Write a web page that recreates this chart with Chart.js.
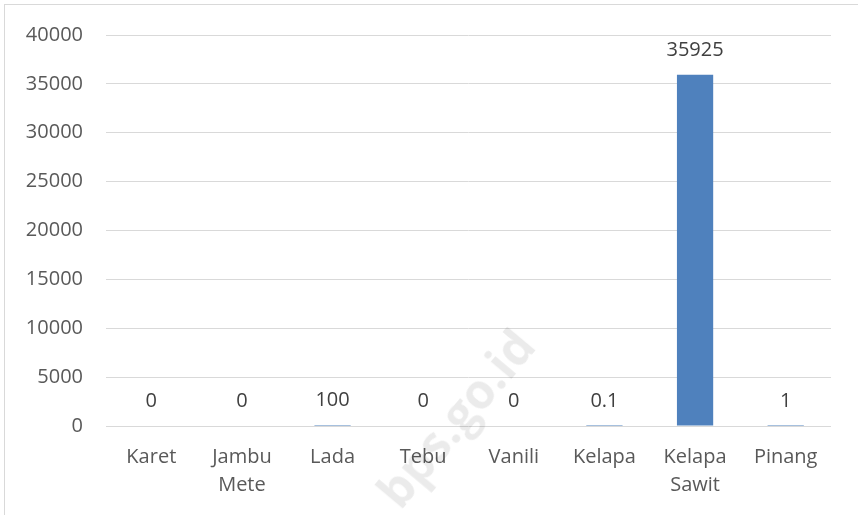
<!DOCTYPE html>
<html lang="id">
<head>
    <meta charset="UTF-8">
    <title>Produksi Perkebunan</title>
    <script src="https://cdn.jsdelivr.net/npm/chart.js"></script>
    <style>
        body {
            margin: 0;
            padding: 0;
            background: #ffffff;
            overflow: hidden;
        }
        .frame {
            position: absolute;
            left: 4px;
            top: 4px;
            width: 870px;
            height: 530px;
            border: 1px solid #d9d9d9;
            box-sizing: border-box;
        }
        .chart-box {
            position: absolute;
            left: 0;
            top: 0;
            width: 858px;
            height: 515px;
        }
        .watermark {
            position: absolute;
            left: 300px;
            top: 385px;
            width: 310px;
            text-align: center;
            font-family: 'Open Sans', Arial, sans-serif;
            font-weight: 700;
            font-size: 48px;
            color: rgba(0, 0, 0, 0.08);
            transform: rotate(-50deg);
            pointer-events: none;
        }
    </style>
</head>
<body>
    <div class="frame"></div>
    <div class="chart-box">
        <canvas id="cropChart" width="858" height="515"></canvas>
    </div>
    <div class="watermark">bps.go.id</div>

    <script>
        // data
        const categories = [['Karet'], ['Jambu', 'Mete'], ['Lada'], ['Tebu'], ['Vanili'], ['Kelapa'], ['Kelapa', 'Sawit'], ['Pinang']];
        const production = [0, 0, 100, 0, 0, 0.1, 35925, 1];
        const yTicks = [0, 5000, 10000, 15000, 20000, 25000, 30000, 35000, 40000];

        // value labels above each bar
        const valueLabels = {
            id: 'valueLabels',
            afterDatasetsDraw(chart) {
                const ctx = chart.ctx;
                const meta = chart.getDatasetMeta(0);
                ctx.save();
                ctx.font = '20px "Open Sans", Arial, sans-serif';
                ctx.fillStyle = '#404040';
                ctx.textAlign = 'center';
                ctx.textBaseline = 'middle';
                meta.data.forEach((bar, i) => {
                    ctx.fillText(String(production[i]), bar.x, bar.y - 25);
                });
                ctx.restore();
            }
        };

        const ctx = document.getElementById('cropChart').getContext('2d');
        const cropChart = new Chart(ctx, {
            type: 'bar',
            data: {
                labels: categories,
                datasets: [{
                    data: production,
                    backgroundColor: '#4f81bd',
                    borderWidth: 0,
                    barPercentage: 0.8,
                    categoryPercentage: 0.5
                }]
            },
            options: {
                responsive: false,
                animation: false,
                layout: { padding: { left: 0, right: 27, top: 34, bottom: 0 } },
                plugins: {
                    legend: { display: false },
                    tooltip: { enabled: false }
                },
                scales: {
                    x: {
                        grid: { display: false, drawTicks: false },
                        border: { display: false },
                        ticks: {
                            color: '#595959',
                            font: { family: '"Open Sans", Arial, sans-serif', size: 20, lineHeight: 1.4 },
                            padding: 17,
                            maxRotation: 0,
                            autoSkip: false
                        },
                        afterFit(scale) { scale.height = 89; }
                    },
                    y: {
                        min: 0,
                        max: 40000,
                        afterBuildTicks(scale) {
                            scale.ticks = yTicks.map(v => ({ value: v }));
                        },
                        grid: { color: '#d9d9d9', lineWidth: 1, drawTicks: false },
                        border: { display: false },
                        ticks: {
                            color: '#595959',
                            font: { family: '"Open Sans", Arial, sans-serif', size: 20 },
                            padding: 23,
                            callback: (value) => String(value)
                        },
                        afterFit(scale) { scale.width = 106; }
                    }
                }
            },
            plugins: [valueLabels]
        });
    </script>
</body>
</html>
